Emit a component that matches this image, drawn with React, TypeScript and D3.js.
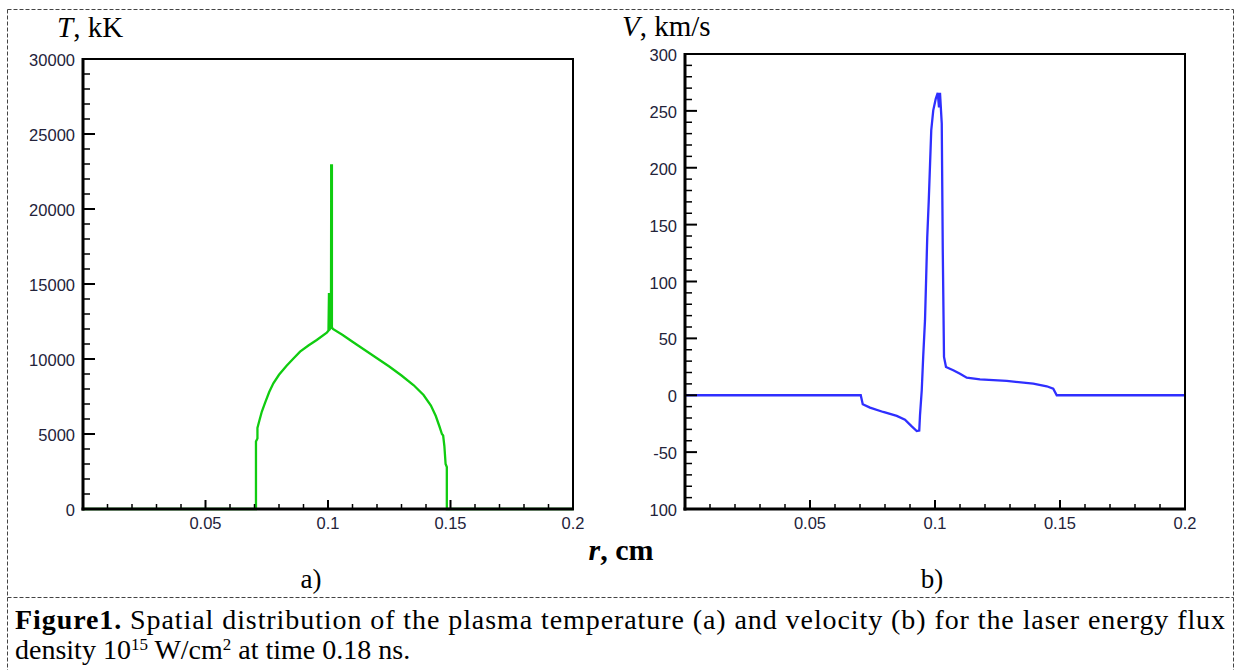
import React from "react";
import * as d3 from "d3";

// ---------- data ----------
// Temperature (panel a): r [cm], T [kK]
const tempR = [0, 0.0706, 0.0706, 0.0712, 0.0712, 0.072, 0.073, 0.0743, 0.076, 0.0777, 0.08, 0.0831, 0.0858, 0.0886, 0.092, 0.0954, 0.0995, 0.1002, 0.1004, 0.1004, 0.1008, 0.1012, 0.1013, 0.1013, 0.1016, 0.1016, 0.102, 0.106, 0.11, 0.115, 0.12, 0.125, 0.13, 0.135, 0.139, 0.142, 0.144, 0.1455, 0.1465, 0.147, 0.1475, 0.148, 0.1485, 0.1485, 0.2];
const tempT = [0, 0, 4500, 4700, 5400, 5900, 6500, 7070, 7800, 8380, 8950, 9550, 10020, 10490, 10900, 11270, 11750, 11900, 14400, 12100, 12000, 12100, 20500, 22900, 22900, 12100, 12000, 11600, 11150, 10600, 10050, 9500, 8900, 8250, 7600, 6900, 6200, 5500, 5000, 4900, 4200, 3000, 2800, 0, 0];

// Velocity (panel b): r [cm], V [km/s]
const velR = [0, 0.0703, 0.0711, 0.074, 0.0793, 0.0847, 0.088, 0.0907, 0.0927, 0.0937, 0.094, 0.0947, 0.0953, 0.096, 0.0964, 0.0969, 0.0975, 0.098, 0.0985, 0.0993, 0.1003, 0.1011, 0.1016, 0.102, 0.1027, 0.1031, 0.1036, 0.1044, 0.1073, 0.11, 0.1127, 0.118, 0.1287, 0.1393, 0.1447, 0.1473, 0.1487, 0.2];
const velV = [0, 0, -7.9, -10.9, -14.7, -18.2, -21.4, -27.3, -31.4, -31, -17.6, 4.4, 35, 66, 98, 139, 171, 202, 233, 250.5, 260.7, 265.8, 253, 265.8, 238.8, 129, 33.7, 24.9, 22, 19, 15.5, 14, 12.6, 10.2, 7.9, 5.8, 0, 0];

// ticks
const xMajorTicks = [0, 0.05, 0.1, 0.15, 0.2];
const xTickLabels = ["", "0.05", "0.1", "0.15", "0.2"];
const tMajorTicks = [0, 5000, 10000, 15000, 20000, 25000, 30000];
const tTickLabels = ["0", "5000", "10000", "15000", "20000", "25000", "30000"];
const vMajorTicks = [-100, -50, 0, 50, 100, 150, 200, 250, 300];
const vTickLabels = ["100", "-50", "0", "50", "100", "150", "200", "250", "300"];

const W = 1236;
const H = 670;

type PanelProps = {
  xs: number[];
  ys: number[];
  xRange: [number, number];
  yDomain: [number, number];
  yRange: [number, number];
  yMajor: number[];
  yLabels: string[];
  yMinorStep: number;
  color: string;
};

function Panel({ xs, ys, xRange, yDomain, yRange, yMajor, yLabels, yMinorStep, color }: PanelProps) {
  const x = d3.scaleLinear().domain([0, 0.2]).range(xRange);
  const y = d3.scaleLinear().domain(yDomain).range(yRange);
  const pts: [number, number][] = xs.map((r, i) => [r, ys[i]]);
  const line = d3
    .line<[number, number]>()
    .x((d) => x(d[0]))
    .y((d) => y(d[1]));

  const xMinor = d3.range(0, 0.2001, 0.01).filter((v) => Math.abs(Math.round(v / 0.05) * 0.05 - v) > 1e-6);
  const yMinor = d3
    .range(yDomain[0], yDomain[1] + yMinorStep * 0.01, yMinorStep)
    .filter((v) => !yMajor.some((m) => Math.abs(m - v) < 1e-6));

  const x0 = xRange[0];
  const x1 = xRange[1];
  const yb = yRange[0];
  const yt = yRange[1];
  const tickFont = { fontFamily: "'Liberation Sans', Arial, sans-serif", fontSize: 16.5, fill: "#23233a" };

  return (
    <g>
      <path d={line(pts) ?? ""} fill="none" stroke={color} strokeWidth={2.3} strokeLinejoin="miter" />
      {/* frame */}
      <rect x={x0} y={yt} width={x1 - x0} height={yb - yt} fill="none" stroke="#000" strokeWidth={2} />
      <line x1={x0} x2={x0} y1={yt - 1} y2={yb + 1.5} stroke="#000" strokeWidth={3} />
      <line x1={x0 - 1.5} x2={x1 + 1} y1={yb} y2={yb} stroke="#000" strokeWidth={3} />
      {/* x ticks */}
      {xMajorTicks.map((v) => (
        <line key={"xM" + v} x1={x(v)} x2={x(v)} y1={yb} y2={yb - 9} stroke="#000" strokeWidth={2} />
      ))}
      {xMinor.map((v) => (
        <line key={"xm" + v} x1={x(v)} x2={x(v)} y1={yb} y2={yb - 5} stroke="#000" strokeWidth={1.5} />
      ))}
      {xMajorTicks.map((v, i) => (
        <text key={"xl" + v} x={x(v)} y={yb + 20} textAnchor="middle" {...tickFont}>
          {xTickLabels[i]}
        </text>
      ))}
      {/* y ticks */}
      {yMajor.map((v) => (
        <line key={"yM" + v} x1={x0} x2={x0 + 12} y1={y(v)} y2={y(v)} stroke="#000" strokeWidth={2} />
      ))}
      {yMinor.map((v) => (
        <line key={"ym" + v} x1={x0} x2={x0 + 7} y1={y(v)} y2={y(v)} stroke="#000" strokeWidth={1.5} />
      ))}
      {yMajor.map((v, i) => (
        <text key={"yl" + v} x={x0 - 8} y={y(v) + 7} textAnchor="end" {...tickFont}>
          {yLabels[i]}
        </text>
      ))}
    </g>
  );
}

export default function App() {
  const serif = "'Liberation Serif', 'Times New Roman', serif";
  return (
    <svg
      width={W}
      height={H}
      viewBox={`0 0 ${W} ${H}`}
      style={{ position: "absolute", left: 0, top: 0, background: "#fff" }}
    >
      <rect x={0} y={0} width={W} height={H} fill="#fff" />
      {/* dashed borders */}
      <g stroke="#444" strokeWidth={1} strokeDasharray="4,2" fill="none">
        <line x1={7.5} x2={1233.5} y1={9.5} y2={9.5} />
        <line x1={7.5} x2={7.5} y1={9.5} y2={H} />
        <line x1={1233.5} x2={1233.5} y1={9.5} y2={H} />
        <line x1={7.5} x2={1233.5} y1={597.5} y2={597.5} />
      </g>

      <Panel
        xs={tempR}
        ys={tempT}
        xRange={[83, 573]}
        yDomain={[0, 30000]}
        yRange={[509, 59]}
        yMajor={tMajorTicks}
        yLabels={tTickLabels}
        yMinorStep={1000}
        color="#10cc10"
      />
      <Panel
        xs={velR}
        ys={velV}
        xRange={[685, 1185]}
        yDomain={[-100, 300]}
        yRange={[509, 54]}
        yMajor={vMajorTicks}
        yLabels={vTickLabels}
        yMinorStep={10}
        color="#2f2fff"
      />

      {/* axis titles */}
      <text x={57} y={37} fontFamily={serif} fontSize={29} fill="#000">
        <tspan fontStyle="italic">T</tspan>, kK
      </text>
      <text x={622} y={36} fontFamily={serif} fontSize={29} fill="#000">
        <tspan fontStyle="italic">V</tspan>, km/s
      </text>
      <text x={621} y={560} textAnchor="middle" fontFamily={serif} fontSize={30} fontWeight="bold" fill="#000">
        <tspan fontStyle="italic">r</tspan>, cm
      </text>
      <text x={311} y={588} textAnchor="middle" fontFamily={serif} fontSize={27} fill="#000">
        a)
      </text>
      <text x={932} y={588} textAnchor="middle" fontFamily={serif} fontSize={27} fill="#000">
        b)
      </text>

      {/* caption */}
      <text x={15} y={629} fontFamily={serif} fontSize={28} fill="#000" textLength={1210} lengthAdjust="spacing">
        <tspan fontWeight="bold">Figure1.</tspan> Spatial distribution of the plasma temperature (a) and velocity (b) for the laser energy flux
      </text>
      <text x={15} y={659} fontFamily={serif} fontSize={28} fill="#000">
        density 10<tspan fontSize={17} dy={-9}>15</tspan>
        <tspan dy={9}> W/cm</tspan>
        <tspan fontSize={17} dy={-9}>2</tspan>
        <tspan dy={9}> at time 0.18 ns.</tspan>
      </text>
    </svg>
  );
}
